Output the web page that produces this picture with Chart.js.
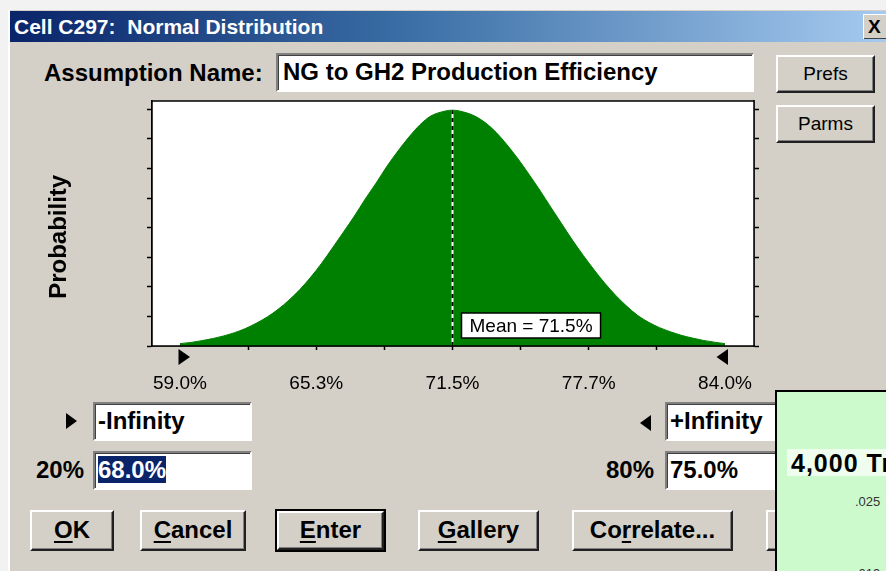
<!DOCTYPE html>
<html><head><meta charset="utf-8">
<script src="https://cdn.jsdelivr.net/npm/chart.js@4.4.1/dist/chart.umd.min.js"></script>
<style>
html,body{margin:0;padding:0;width:886px;height:571px;overflow:hidden;background:#f2f2f2;font-family:"Liberation Sans",Arial,sans-serif;}
.abs{position:absolute;}
#dlg{position:absolute;left:8px;top:10px;width:880px;height:565px;background:#d4d0c8;border-left:2px solid #ffffff;}
#titlebar{position:absolute;left:10px;top:11px;width:876px;height:31px;background:linear-gradient(to right,#0a246a 0%,#3a6ea5 45%,#a6caf0 100%);}
#titletext{position:absolute;left:14px;top:11px;height:31px;line-height:31px;color:#fff;font-weight:bold;font-size:21px;white-space:pre;}
#closebtn{position:absolute;left:863px;top:14px;width:30px;height:24px;background:#d4d0c8;border-top:1px solid #fff;border-left:1px solid #fff;box-shadow:inset -1px -1px #404040;font-weight:bold;font-size:19px;line-height:24px;padding-left:4px;}
.lbl{position:absolute;font-weight:bold;font-size:24px;color:#000;white-space:pre;}
.tb{position:absolute;background:#fff;box-sizing:border-box;border:2px solid;border-color:#808080 #ffffff #ffffff #808080;box-shadow:inset 1px 1px #404040;font-weight:bold;font-size:24px;white-space:pre;overflow:hidden;}
.btn{position:absolute;background:#d4d0c8;box-sizing:border-box;border:2px solid;border-color:#ffffff #202020 #202020 #ffffff;box-shadow:inset -1px -1px #808080;text-align:center;white-space:pre;color:#000;}
.bb{font-weight:bold;font-size:24px;}
.bn{font-size:19px;}
.def{outline:2px solid #000;}
u{text-decoration:underline;text-underline-offset:3px;}
#chartbox{position:absolute;left:30px;top:96px;width:780px;height:300px;}
#green{position:absolute;left:775px;top:390px;width:120px;height:190px;background:#cdfacd;border-left:2px solid #000;border-top:2px solid #000;overflow:hidden;}
</style></head>
<body>
<div id="dlg"></div>
<div id="titlebar"></div>
<div id="titletext">Cell C297:  Normal Distribution</div>
<div id="closebtn">X</div>

<div class="lbl" style="left:44px;top:58px;line-height:30px;">Assumption Name:</div>
<div class="tb" style="left:276px;top:53px;width:478px;height:39px;line-height:34px;padding-left:5px;">NG to GH2 Production Efficiency</div>
<div class="btn bn" style="left:776px;top:55px;width:99px;height:38px;line-height:33px;">Prefs</div>
<div class="btn bn" style="left:776px;top:105px;width:99px;height:38px;line-height:33px;">Parms</div>

<div id="chartbox"><canvas id="c" width="780" height="300"></canvas></div>

<div class="abs" style="left:66px;top:413px;width:0;height:0;border-top:8px solid transparent;border-bottom:8px solid transparent;border-left:11px solid #000;"></div>
<div class="tb" style="left:93px;top:402px;width:159px;height:39px;line-height:34px;padding-left:3px;">-Infinity</div>
<div class="lbl" style="left:36px;top:455px;line-height:30px;">20%</div>
<div class="tb" style="left:93px;top:451px;width:159px;height:39px;line-height:34px;padding-left:3px;"><span style="background:#0a246a;color:#fff;">68.0%</span></div>

<div class="abs" style="left:640px;top:415px;width:0;height:0;border-top:8px solid transparent;border-bottom:8px solid transparent;border-right:11px solid #000;"></div>
<div class="tb" style="left:665px;top:402px;width:159px;height:39px;line-height:34px;padding-left:3px;">+Infinity</div>
<div class="lbl" style="left:606px;top:455px;line-height:30px;">80%</div>
<div class="tb" style="left:665px;top:451px;width:159px;height:39px;line-height:34px;padding-left:3px;">75.0%</div>

<div class="btn bb" style="left:30px;top:510px;width:84px;height:41px;line-height:36px;"><u>O</u>K</div>
<div class="btn bb" style="left:140px;top:510px;width:106px;height:41px;line-height:36px;"><u>C</u>ancel</div>
<div class="btn bb def" style="left:277px;top:511px;width:107px;height:39px;line-height:34px;"><u>E</u>nter</div>
<div class="btn bb" style="left:418px;top:510px;width:121px;height:41px;line-height:36px;"><u>G</u>allery</div>
<div class="btn bb" style="left:572px;top:510px;width:161px;height:41px;line-height:36px;">Co<u>r</u>relate...</div>
<div class="btn bb" style="left:766px;top:510px;width:100px;height:41px;line-height:36px;">Help</div>

<div id="green">
  <div class="abs" style="left:10px;top:57px;width:120px;height:27px;background:#eefdee;"></div>
  <div class="abs" style="left:14px;top:56px;font-weight:bold;font-size:25px;letter-spacing:1px;line-height:30px;white-space:pre;">4,000 Trials</div>
  <div class="abs" style="left:78px;top:102px;font-size:13px;color:#333;">.025</div>
  <div class="abs" style="left:78px;top:174px;font-size:13px;color:#333;">.019</div>
</div>

<script>
// ---- data ----
const xValues = [59.0,59.5,60.0,60.5,61.0,61.5,62.0,62.5,63.0,63.5,64.0,64.5,65.0,65.5,66.0,66.5,67.0,67.5,68.0,68.5,69.0,69.5,70.0,70.5,71.0,71.5,72.0,72.5,73.0,73.5,74.0,74.5,75.0,75.5,76.0,76.5,77.0,77.5,78.0,78.5,79.0,79.5,80.0,80.5,81.0,81.5,82.0,82.5,83.0,83.5,84.0];
const probValues = [0.08,0.12,0.18,0.25,0.34,0.45,0.59,0.77,0.98,1.24,1.55,1.91,2.33,2.80,3.32,3.85,4.39,4.97,5.51,6.08,6.59,7.06,7.47,7.77,7.91,7.97,7.91,7.78,7.55,7.22,6.80,6.33,5.81,5.27,4.70,4.14,3.58,3.06,2.57,2.11,1.70,1.34,1.03,0.80,0.62,0.48,0.36,0.27,0.19,0.13,0.08];
const meanValue = 71.5;
const meanLabel = "Mean = 71.5%";
const rangeMin = 59.0, rangeMax = 84.0;
const xTickValues = [59.0,62.125,65.25,68.375,71.5,74.625,77.75,80.875,84.0];
const xTickLabels = ["59.0%","","65.3%","","71.5%","","77.7%","","84.0%"];
const yTickValues = [0,1,2,3,4,5,6,7,8];

const curve = xValues.map((x,i)=>({x:x,y:probValues[i]}));
const meanTop = probValues[xValues.indexOf(meanValue)];

const framePlugin = {
  id:'frame',
  beforeDatasetsDraw(chart){
    const a = chart.chartArea, ctx = chart.ctx;
    ctx.save(); ctx.fillStyle='#ffffff';
    ctx.fillRect(a.left,a.top,a.right-a.left,a.bottom-a.top);
    ctx.restore();
  },
  afterDraw(chart){
    const a = chart.chartArea, ctx = chart.ctx, xs = chart.scales.x;
    ctx.save();
    ctx.strokeStyle='#000'; ctx.lineWidth=1.5;
    ctx.strokeRect(a.left,a.top,a.right-a.left,a.bottom-a.top);
    ctx.fillStyle='#000';
    const x0 = xs.getPixelForValue(rangeMin), x1 = xs.getPixelForValue(rangeMax), yb = a.bottom;
    ctx.beginPath(); ctx.moveTo(x0-1.5,yb+3); ctx.lineTo(x0-1.5,yb+19); ctx.lineTo(x0+10,yb+11); ctx.closePath(); ctx.fill();
    ctx.beginPath(); ctx.moveTo(x1+3,yb+3); ctx.lineTo(x1+3,yb+19); ctx.lineTo(x1-8.5,yb+11); ctx.closePath(); ctx.fill();
    const mx = xs.getPixelForValue(meanValue);
    ctx.font = '19px "Liberation Sans", Arial, sans-serif';
    const w = ctx.measureText(meanLabel).width;
    const bx = mx+9, bw = w+16, bh = 25, by = yb-8-bh;
    ctx.fillStyle='#fff'; ctx.fillRect(bx,by,bw,bh);
    ctx.strokeStyle='#000'; ctx.lineWidth=1.5; ctx.strokeRect(bx,by,bw,bh);
    ctx.fillStyle='#000'; ctx.textBaseline='middle'; ctx.fillText(meanLabel,bx+8,by+bh/2+1);
    ctx.restore();
  }
};

new Chart(document.getElementById('c'),{
  type:'line',
  data:{datasets:[
    {data:[{x:meanValue,y:0},{x:meanValue,y:meanTop}],borderColor:'#000',borderWidth:2,borderDash:[4,4],pointRadius:0,fill:false,order:1},
    {data:[{x:meanValue,y:0},{x:meanValue,y:meanTop}],borderColor:'#fff',borderWidth:2,pointRadius:0,fill:false,order:2},
    {data:curve,borderColor:'#008000',backgroundColor:'#008000',borderWidth:1,pointRadius:0,fill:'origin',tension:0.3,cubicInterpolationMode:'monotone',order:3}
  ]},
  options:{
    responsive:false,animation:false,devicePixelRatio:1,
    layout:{padding:{top:5,left:0,right:0,bottom:0}},
    plugins:{legend:{display:false},tooltip:{enabled:false}},
    scales:{
      x:{type:'linear',min:57.716,max:85.33,
        afterBuildTicks(s){s.ticks = xTickValues.map(v=>({value:v}));},
        afterFit(s){s.height=50;},
        grid:{drawOnChartArea:false,drawTicks:true,tickLength:4,tickWidth:1.5,
          tickColor:(c)=> (c.tick && (c.tick.value===rangeMin||c.tick.value===rangeMax)) ? 'rgba(0,0,0,0)' : '#000'},
        border:{color:'#000',width:1.5},
        ticks:{autoSkip:false,maxRotation:0,padding:22,color:'#000',font:{family:'"Liberation Sans", Arial, sans-serif',size:19},
          callback:(v,i)=>xTickLabels[i]}
      },
      y:{type:'linear',position:'left',min:0,max:8.28,
        afterBuildTicks(s){s.ticks = yTickValues.map(v=>({value:v}));},
        afterFit(s){s.width=122;},
        grid:{drawOnChartArea:false,drawTicks:true,tickLength:5,tickColor:'#000',tickWidth:1.5},
        border:{color:'#000',width:1.5},
        ticks:{display:false},
        title:{display:true,text:'Probability    ',color:'#000',padding:{top:15},
          font:{family:'"Liberation Sans", Arial, sans-serif',size:24,weight:'bold'}}
      },
      y2:{type:'linear',position:'right',min:0,max:8.28,
        afterBuildTicks(s){s.ticks = yTickValues.map(v=>({value:v}));},
        afterFit(s){s.width=56;},
        grid:{drawOnChartArea:false,drawTicks:true,tickLength:5,tickColor:'#000',tickWidth:1.5},
        border:{color:'#000',width:1.5},
        ticks:{display:false}
      }
    }
  },
  plugins:[framePlugin]
});
</script>
</body></html>
